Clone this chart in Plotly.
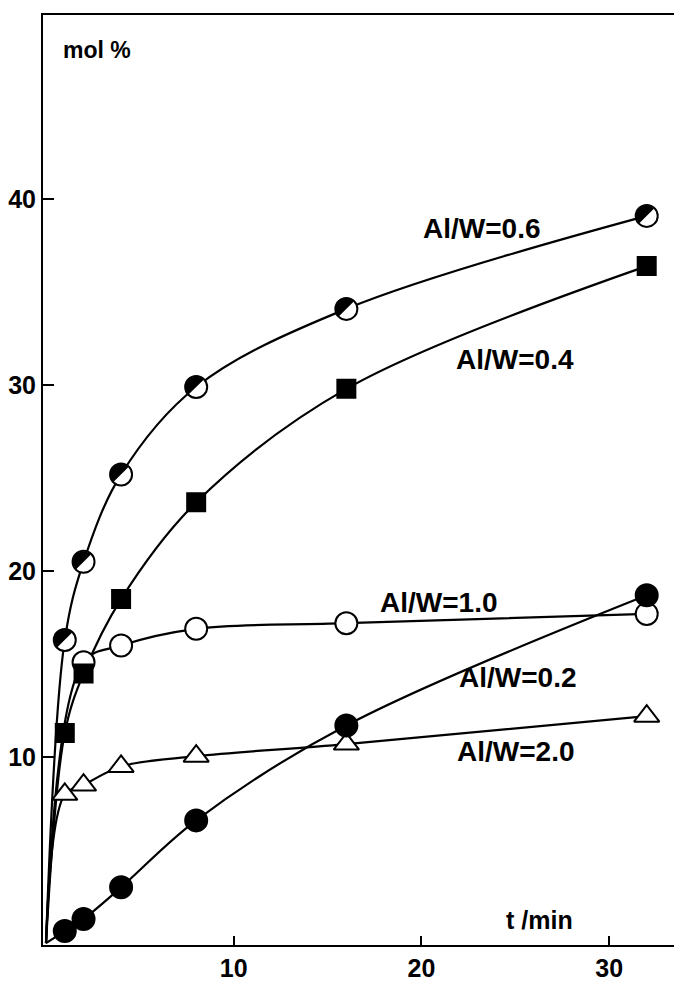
import numpy as np
import plotly.graph_objects as go

t = [1, 2, 4, 8, 16, 32]
y06 = [16.3, 20.5, 25.2, 29.9, 34.1, 39.1]
y04 = [11.3, 14.5, 18.5, 23.7, 29.8, 36.4]
t10 = [2, 4, 8, 16, 32]
y10 = [15.1, 16.0, 16.9, 17.2, 17.7]
y02 = [0.65, 1.3, 3.0, 6.6, 11.7, 18.7]
y20 = [8.0, 8.5, 9.5, 10.05, 10.7, 12.2]

labels = ["Al/W=0.6", "Al/W=0.4", "Al/W=1.0", "Al/W=0.2", "Al/W=2.0"]
label_pos = [(23.2, 38.4), (25.0, 31.4), (20.9, 18.3), (25.1, 14.3), (25.0, 10.3)]

XR = [-0.16, 33.88]
YR = [-0.1, 49.9]
# page body has an 8px margin; compensate so the plot area sits where the reference has it
W, H = 674, 974
ML, MR, MT, MB = 34, 0, 7, 27

FONT = "Liberation Sans"

fig = go.Figure()

def line(xs, ys):
    fig.add_trace(go.Scatter(x=[0] + list(xs), y=[0] + list(ys), mode="lines",
                             line=dict(color="black", width=2.2, shape="spline", smoothing=1.0),
                             hoverinfo="skip", showlegend=False))

for xs, ys in [(t, y06), (t, y04), (t10, y10), (t, y02), (t, y20)]:
    line(xs, ys)

def markers(xs, ys, symbol, fill, size):
    fig.add_trace(go.Scatter(x=xs, y=ys, mode="markers",
                             marker=dict(symbol=symbol, size=size, color=fill,
                                         line=dict(color="black", width=2)),
                             showlegend=False))

markers(t, y06, "circle", "white", 22)
markers(t10, y10, "circle", "white", 22)
markers(t, y04, "square", "black", 18)
markers(t, y20, "triangle-up", "white", 22)
markers(t, y02, "circle", "black", 22)

# half-filled discs for Al/W=0.6 (upper-left half black)
pxx = (W - ML - MR) / (XR[1] - XR[0])
pxy = (H - MT - MB) / (YR[1] - YR[0])
r = 10.5
shapes = []
ang = np.linspace(np.pi / 4, 5 * np.pi / 4, 25)
for xv, yv in zip(t, y06):
    pts = [(xv + r / pxx * np.cos(a), yv + r / pxy * np.sin(a)) for a in ang]
    path = "M " + " L ".join(f"{px:.4f},{py:.4f}" for px, py in pts) + " Z"
    shapes.append(dict(type="path", path=path, xref="x", yref="y",
                       fillcolor="black", line=dict(width=0), layer="above"))

ann = []
for txt, (ax, ay) in zip(labels, label_pos):
    ann.append(dict(x=ax, y=ay, xref="x", yref="y", text=txt, showarrow=False,
                    font=dict(family=FONT, size=28, color="black", weight="bold")))
ann.append(dict(x=0.028, y=0.979, xref="paper", yref="paper", text="mol %", showarrow=False,
                xanchor="left",
                font=dict(family=FONT, size=23, color="black", weight="bold")))
ann.append(dict(x=0.722, y=0.027, xref="paper", yref="paper", text="t /min", showarrow=False,
                xanchor="left", yanchor="middle",
                font=dict(family=FONT, size=25, color="black", weight="bold")))

fig.update_layout(
    width=W, height=H,
    margin=dict(l=ML, r=MR, t=MT, b=MB),
    paper_bgcolor="white", plot_bgcolor="white",
    shapes=shapes, annotations=ann,
    xaxis=dict(range=XR, showgrid=False, zeroline=False, showline=True, linecolor="black",
               linewidth=2, mirror=True, ticks="inside", ticklen=9, tickwidth=2,
               tickcolor="black", tickvals=[10, 20, 30],
               tickfont=dict(family=FONT, size=25, color="black", weight="bold")),
    yaxis=dict(range=YR, showgrid=False, zeroline=False, showline=True, linecolor="black",
               linewidth=2, ticks="inside", ticklen=11, tickwidth=2, tickcolor="black",
               tickvals=[10, 20, 30, 40],
               tickfont=dict(family=FONT, size=25, color="black", weight="bold")),
)

fig.write_html("out.html", config={"displayModeBar": False})
